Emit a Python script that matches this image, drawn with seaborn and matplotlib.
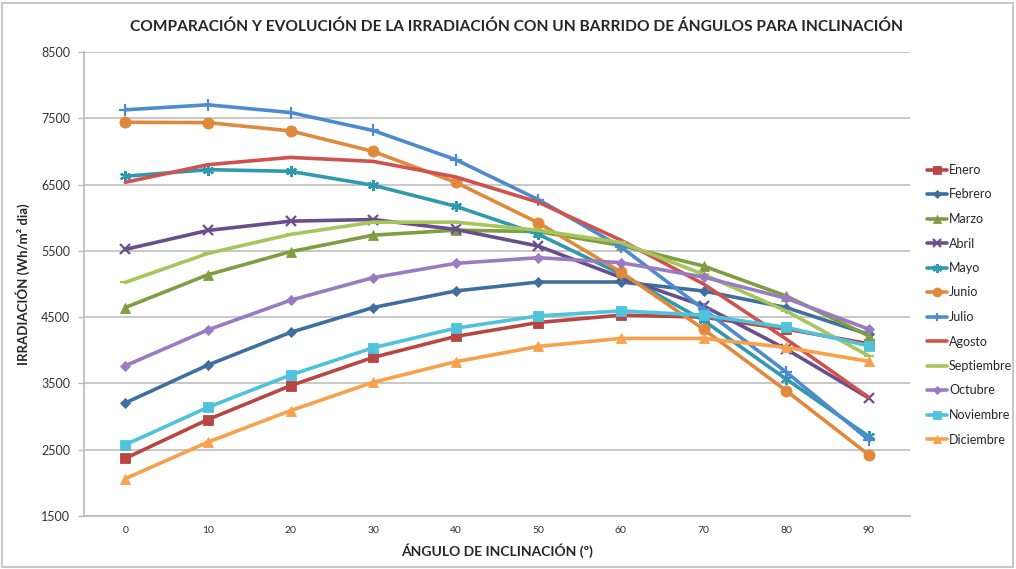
import matplotlib
matplotlib.use("Agg")
import matplotlib.pyplot as plt
import seaborn as sns
import pandas as pd
from matplotlib.patches import Rectangle

angles = [0, 10, 20, 30, 40, 50, 60, 70, 80, 90]
months = ["Enero", "Febrero", "Marzo", "Abril", "Mayo", "Junio", "Julio",
          "Agosto", "Septiembre", "Octubre", "Noviembre", "Diciembre"]

enero = [2370, 2955, 3466, 3893, 4209, 4419, 4530, 4500, 4320, 4100]
febrero = [3206, 3778, 4270, 4645, 4895, 5030, 5030, 4895, 4645, 4240]
marzo = [4645, 5140, 5488, 5737, 5812, 5790, 5582, 5271, 4820, 4218]
abril = [5522, 5808, 5948, 5973, 5823, 5572, 5100, 4670, 4018, 3280]
mayo = [6625, 6725, 6700, 6490, 6173, 5750, 5150, 4450, 3567, 2700]
junio = [7440, 7435, 7310, 7000, 6534, 5923, 5181, 4319, 3391, 2424]
julio = [7628, 7703, 7587, 7316, 6876, 6274, 5560, 4620, 3672, 2650]
agosto = [6534, 6800, 6910, 6850, 6615, 6234, 5662, 5000, 4170, 3290]
septiembre = [5025, 5462, 5748, 5933, 5933, 5810, 5627, 5146, 4594, 3917]
octubre = [3767, 4308, 4755, 5096, 5311, 5397, 5322, 5105, 4785, 4319]
noviembre = [2574, 3140, 3627, 4038, 4334, 4519, 4594, 4530, 4345, 4068]
diciembre = [2063, 2615, 3090, 3517, 3827, 4058, 4179, 4179, 4044, 3833]

series = [enero, febrero, marzo, abril, mayo, junio, julio, agosto,
          septiembre, octubre, noviembre, diciembre]

colors = ["#B84744", "#3F6E9F", "#7F9E42", "#6A4E8C", "#2F9AAF", "#E0893C",
          "#4C8BCF", "#D0524F", "#A6C65C", "#9A7BC2", "#4FC3DC", "#F9A04B"]
markers = ["s", "D", "^", "x", (6, 2, 0), "o", "+", None, "_", "D", "s", "^"]
msizes = [7, 5, 7, 7, 8, 8, 8, 0, 7, 5, 7, 7]

rows = []
for m, vals in zip(months, series):
    for a, v in zip(angles, vals):
        rows.append({"angulo": a, "valor": v, "mes": m})
df = pd.DataFrame(rows)

sns.set_theme(style="white")
plt.rcParams["font.family"] = ["Lato", "DejaVu Sans"]

fig = plt.figure(figsize=(10.16, 5.69), dpi=100)
ax = fig.add_axes([84 / 1016, 1 - 516 / 569, (910 - 84) / 1016, (516 - 52) / 569])

for i, m in enumerate(months):
    sub = df[df["mes"] == m]
    mk = markers[i]
    kw = dict(marker=mk, markersize=msizes[i]) if mk is not None else dict(marker=None)
    if mk in ("x", "+", (6, 2, 0), "_"):
        kw["markeredgewidth"] = 1.6
        kw["markeredgecolor"] = colors[i]
    else:
        kw["markeredgewidth"] = 0.6
        kw["markeredgecolor"] = colors[i]
    sns.lineplot(data=sub, x="angulo", y="valor", ax=ax, color=colors[i],
                 linewidth=2.6, label=m, **kw)

ax.set_xlim(-5, 95)
ax.set_ylim(1500, 8500)
ax.set_xticks(angles)
ax.set_xticklabels([str(a) for a in angles], fontsize=7.5, color="#333333")
ax.set_yticks(range(1500, 8501, 1000))
ax.set_yticklabels([str(v) for v in range(1500, 8501, 1000)], fontsize=9, color="#333333")
ax.tick_params(axis="x", length=0, pad=7)
ax.tick_params(axis="y", length=4, width=1, color="#BBBBBB", direction="out", pad=6, left=True)
ax.yaxis.grid(True, color="#C8C8C8", linewidth=1.4)
ax.xaxis.grid(False)
for s in ["top", "right"]:
    ax.spines[s].set_visible(False)
for s in ["left", "bottom"]:
    ax.spines[s].set_color("#BBBBBB")
    ax.spines[s].set_linewidth(1.2)

ax.set_xlabel("ÁNGULO DE INCLINACIÓN (º)", fontsize=10, fontweight="bold", labelpad=6)
ax.set_ylabel("IRRADIACIÓN (Wh/m² dia)", fontsize=9.5, fontweight="bold", labelpad=8)
fig.suptitle("COMPARACIÓN Y EVOLUCIÓN DE LA IRRADIACIÓN CON UN BARRIDO DE ÁNGULOS PARA INCLINACIÓN",
             x=517 / 1016, y=1 - 27 / 569, va="center", fontsize=11.2, fontweight="bold")

leg = ax.legend(loc="upper left", bbox_to_anchor=(922 / 1016, 1 - 159 / 569),
                bbox_transform=fig.transFigure, frameon=False, fontsize=9,
                labelspacing=1.0, handlelength=1.6, handletextpad=0.15,
                borderaxespad=0, markerscale=0.8)

fig.patches.append(Rectangle((2 / 1016, 2 / 569), 1011 / 1016, 564 / 569,
                             transform=fig.transFigure, fill=False,
                             edgecolor="#C8C8C8", linewidth=1.5))

fig.savefig("out.png", dpi=100)
